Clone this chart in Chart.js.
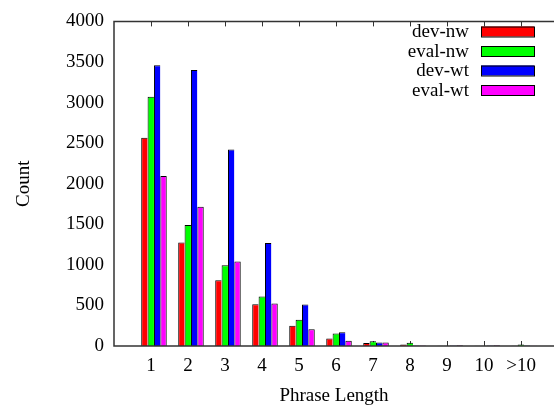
<!DOCTYPE html>
<html>
<head>
<meta charset="utf-8">
<script src="https://cdn.jsdelivr.net/npm/chart.js@4.4.1/dist/chart.umd.min.js"></script>
<style>
  html, body { margin: 0; padding: 0; background: #fff; overflow: hidden; }
  #wrap { width: 554px; height: 407px; }
</style>
</head>
<body>
<div id="wrap"><canvas id="myChart" width="554" height="407"></canvas></div>
<script>
var phraseLengths = ['1', '2', '3', '4', '5', '6', '7', '8', '9', '10', '>10']
var yTicks = [0, 500, 1000, 1500, 2000, 2500, 3000, 3500, 4000]

var devNw  = [2565, 1275, 810, 515, 250, 93, 36, 20, 3, 3, 3]
var evalNw = [3070, 1490, 995, 610, 325, 155, 57, 40, 3, 3, 18]
var devWt  = [3460, 3400, 2420, 1270, 510, 170, 42, 6, 5, 5, 6]
var evalWt = [2095, 1715, 1040, 525, 205, 64, 44, 5, 8, 8, 4]

// x range is cut at the right edge, the box would close at 12
var xMin = 0, xMax = 11.89
// clusters sit a bit right of their tick, like gnuplot's histogram layout
var clusterShift = 0.08

var serif = "'Liberation Serif', 'Times New Roman', serif"
var frameColor = '#333'

function points(values) {
    return values.map(function (v, i) { return { x: i + 1, y: v } })
}

function categoryTicks() {
    return phraseLengths.map(function (_, i) { return { value: i + 1 } })
}

// gnuplot-ish frame, inward x ticks and a right aligned key
var gnuplotLook = {
    id: 'gnuplotLook',
    beforeDatasetsDraw: function (chart) {
        var ctx = chart.ctx, area = chart.chartArea, xs = chart.scales.x
        ctx.save()
        ctx.strokeStyle = frameColor
        ctx.lineWidth = 1
        xs.ticks.forEach(function (t) {
            if (!phraseLengths[t.value - 1]) return
            var px = Math.round(xs.getPixelForValue(t.value)) + 0.5
            ctx.beginPath()
            ctx.moveTo(px, area.top); ctx.lineTo(px, area.top + 5)
            ctx.moveTo(px, area.bottom); ctx.lineTo(px, area.bottom - 5)
            ctx.stroke()
        })
        ctx.restore()
    },
    afterDatasetsDraw: function (chart) {
        var ctx = chart.ctx, area = chart.chartArea
        ctx.save()
        ctx.strokeStyle = frameColor
        ctx.lineWidth = 1.5
        ctx.beginPath()
        ctx.moveTo(area.right, area.top)
        ctx.lineTo(area.left, area.top)
        ctx.lineTo(area.left, area.bottom)
        ctx.lineTo(area.right, area.bottom)
        ctx.stroke()

        ctx.font = '19px ' + serif
        ctx.textAlign = 'right'
        ctx.textBaseline = 'middle'
        chart.data.datasets.forEach(function (ds, i) {
            var y = 31.5 + i * 19.5
            ctx.fillStyle = '#000'
            ctx.fillText(ds.label, 469, y + 1)
            ctx.fillStyle = ds.backgroundColor
            ctx.fillRect(481, y - 5, 53, 10)
            ctx.lineWidth = 1
            ctx.strokeStyle = '#000'
            ctx.strokeRect(481.5, y - 4.5, 53, 10)
        })
        ctx.restore()
    }
}

function barSet(label, color, values, last) {
    return {
        label: label,
        data: points(values),
        backgroundColor: color,
        borderColor: '#000',
        borderWidth: { top: 1, left: 1, right: last ? 1 : 0, bottom: 0 },
        borderSkipped: 'bottom',
        xAxisID: 'xb',
        categoryPercentage: 0.69,
        barPercentage: 1
    }
}

chart = new Chart('myChart', {
    type: 'bar',
    data: {
        datasets: [
            barSet('dev-nw', '#ff0000', devNw),
            barSet('eval-nw', '#00ff00', evalNw),
            barSet('dev-wt', '#0000ff', devWt),
            barSet('eval-wt', '#ff00ff', evalWt, true)
        ]
    },
    options: {
        responsive: false,
        animation: false,
        layout: { padding: { top: 16, right: 0, left: 0, bottom: 0 } },
        plugins: { legend: { display: false }, tooltip: { enabled: false } },
        scales: {
            x: {
                type: 'linear',
                min: xMin,
                max: xMax,
                offset: false,
                grid: { display: false, drawTicks: true, tickLength: 9 },
                border: { display: false },
                afterBuildTicks: function (s) { s.ticks = categoryTicks() },
                ticks: {
                    autoSkip: false,
                    maxRotation: 0,
                    padding: 0,
                    color: '#000',
                    font: { family: serif, size: 19 },
                    callback: function (v) { return phraseLengths[v - 1] || '' }
                },
                title: {
                    display: true,
                    text: 'Phrase Length',
                    color: '#000',
                    font: { family: serif, size: 19 },
                    padding: { top: 0, bottom: 0 }
                },
                afterFit: function (s) { s.height = 61 }
            },
            xb: {
                type: 'linear',
                display: false,
                min: xMin - clusterShift,
                max: xMax - clusterShift,
                offset: false,
                afterBuildTicks: function (s) { s.ticks = categoryTicks() }
            },
            y: {
                min: yTicks[0],
                max: yTicks[yTicks.length - 1],
                grid: { display: false, drawTicks: false },
                border: { display: false },
                afterBuildTicks: function (s) { s.ticks = yTicks.map(function (v) { return { value: v } }) },
                ticks: {
                    padding: 10,
                    color: '#000',
                    font: { family: serif, size: 19 },
                    callback: function (v) { return String(v) }
                },
                title: {
                    display: true,
                    text: 'Count',
                    color: '#000',
                    font: { family: serif, size: 19 },
                    padding: { top: 13, bottom: 0 }
                },
                afterFit: function (s) { s.width = 114 }
            }
        }
    },
    plugins: [gnuplotLook]
});
</script>
</body>
</html>
